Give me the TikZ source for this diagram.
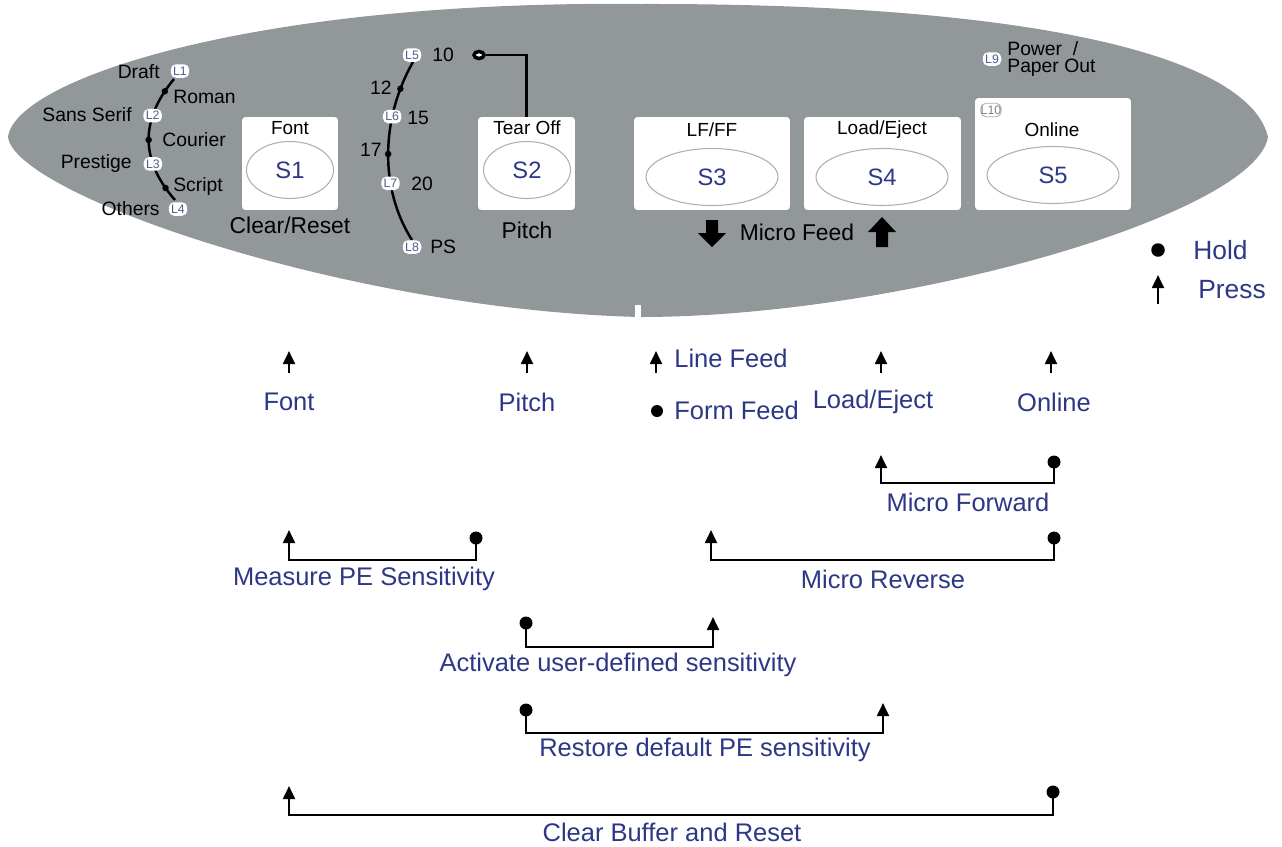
\documentclass[tikz,border=0pt]{standalone}
\usepackage{fontspec}
\setmainfont{Liberation Sans}
\usepackage{tikz}
\usetikzlibrary{arrows.meta, positioning, shapes.geometric}
\definecolor{panelgrey}{RGB}{146,151,154}
\definecolor{keyblue}{RGB}{44,56,134}
\definecolor{ledblue}{RGB}{80,92,150}
\definecolor{ovalgrey}{RGB}{175,175,175}

\begin{document}
\begin{tikzpicture}[
    x=0.02cm, y=-0.02cm,
    keybox/.style={fill=white, rounded corners=2pt, inner sep=0pt},
    keyoval/.style={ellipse, draw=ovalgrey, line width=0.6pt, inner sep=0pt, text=keyblue, font=\fontsize{13.5}{14}\selectfont},
    keyname/.style={inner sep=0pt, font=\fontsize{10.8}{12}\selectfont},
    panellabel/.style={inner sep=0pt, font=\fontsize{11}{12}\selectfont},
    biglabel/.style={inner sep=0pt, font=\fontsize{13}{14}\selectfont},
    led/.style={fill=white, rounded corners=3pt, inner sep=0pt, minimum width=0.37cm, minimum height=0.27cm, text=ledblue, font=\fontsize{7}{7}\selectfont},
    seldot/.style={circle, fill=black, inner sep=0pt, minimum size=0.13cm},
    selline/.style={line width=1.4pt},
    keylabel/.style={inner sep=0pt, text=keyblue, font=\fontsize{14.5}{15}\selectfont},
    keyarrow/.style={line width=1.4pt, -{Triangle[width=6.8pt, length=7.5pt]}},
    holddot/.style={circle, fill=black, inner sep=0pt, minimum size=0.26cm}
]
    \useasboundingbox (0,0) rectangle (1282,846);

    % Panel
    \fill[panelgrey] (8,137) .. controls (15,80) and (250,0) .. (640,4)
        .. controls (1050,3) and (1250,60) .. (1268,137)
        .. controls (1255,215) and (900,317) .. (640,317)
        .. controls (350,310) and (15,195) .. (8,137) -- cycle;
    \fill[white] (635,305) rectangle (641,318);

    % Keys
    \node[keybox, minimum width=1.92cm, minimum height=1.86cm] (s1box) at (290,163.5) {};
    \node[keybox, minimum width=1.94cm, minimum height=1.86cm] (s2box) at (526.5,163.5) {};
    \node[keybox, minimum width=3.12cm, minimum height=1.86cm] (s3box) at (712,163.5) {};
    \node[keybox, minimum width=3.14cm, minimum height=1.86cm] (s4box) at (882.5,163.5) {};
    \node[keybox, minimum width=3.12cm, minimum height=2.24cm] (s5box) at (1053,154) {};

    \node[keyoval, minimum width=1.74cm, minimum height=1.14cm] (s1key) at (290,170) {S1};
    \node[keyoval, minimum width=1.74cm, minimum height=1.14cm] (s2key) at (527,170) {S2};
    \node[keyoval, minimum width=2.64cm, minimum height=1.14cm] (s3key) at (712,177) {S3};
    \node[keyoval, minimum width=2.64cm, minimum height=1.14cm] (s4key) at (882,177) {S4};
    \node[keyoval, minimum width=2.64cm, minimum height=1.14cm] (s5key) at (1053,175) {S5};

    \node[keyname] (fontname) at (290,128) {Font};
    \node[keyname] (tearname) at (527,128) {Tear Off};
    \node[keyname] (lfffname) at (712,130) {LF/FF};
    \node[keyname] (loadname) at (882,130) {Load/Eject};
    \node[keyname] (onlinename) at (1052,130) {Online};
    \node[led, draw=ovalgrey, line width=0.5pt, text=gray] (l10) at (991,110) {L10};

    \node[biglabel] (clearreset) at (290,225) {Clear/Reset};
    \node[biglabel] (pitchname) at (527,230) {Pitch};
    \node[biglabel] (microfeed) at (797,232) {Micro Feed};

    % Micro feed arrows
    \fill (706,220) -- (718,220) -- (718,233) -- (726,233) -- (712,247) -- (698,233) -- (706,233) -- cycle;
    \fill (876,247) -- (888,247) -- (888,232) -- (896,232) -- (882,217) -- (868,232) -- (876,232) -- cycle;

    % Font selection
    \draw[selline] (174,79) .. controls (140,120) and (140,160) .. (175,200)
        node[seldot, pos=0.1] (romandot) {}
        node[led, pos=0.3] (l2) {L2}
        node[seldot, pos=0.5] (courierdot) {}
        node[led, pos=0.7] (l3) {L3}
        node[seldot, pos=0.9] (scriptdot) {};
    \node[led] (l1) at (180,71) {L1};
    \node[led] (l4) at (178,209) {L4};

    \node[panellabel, anchor=east] (draft) at (160,72) {Draft};
    \node[panellabel, anchor=west] (roman) at (173,97) {Roman};
    \node[panellabel, anchor=east] (sansserif) at (132,115) {Sans Serif};
    \node[panellabel, anchor=west] (courier) at (162,140) {Courier};
    \node[panellabel, anchor=east] (prestige) at (132,163) {Prestige};
    \node[panellabel, anchor=west] (script) at (173,186) {Script};
    \node[panellabel, anchor=east] (others) at (160,209) {Others};

    % Pitch selection
    \draw[selline] (413,62) .. controls (380,120) and (380,190) .. (412,240)
        node[seldot, pos=0.15] (dot12) {}
        node[led, pos=0.3] (l6) {L6}
        node[seldot, pos=0.5] (dot17) {}
        node[led, pos=0.66] (l7) {L7};
    \node[led] (l5) at (412,55) {L5};
    \node[led] (l8) at (412,247) {L8};

    \node[panellabel, anchor=west] (p10) at (432,55) {10};
    \node[panellabel, anchor=east] (p12) at (392,88) {12};
    \node[panellabel, anchor=west] (p15) at (407,118) {15};
    \node[panellabel, anchor=east] (p17) at (382,150) {17};
    \node[panellabel, anchor=west] (p20) at (411,184) {20};
    \node[panellabel, anchor=west] (pps) at (430,247) {PS};

    \node[ellipse, draw, line width=2pt, fill=white, minimum width=0.2cm, minimum height=0.14cm, inner sep=0pt] (tearring) at (479,55) {};
    \draw[selline] (tearring) -| (s2box.north);

    % Power LED
    \node[led] (l9) at (992,59) {L9};
    \node[panellabel, anchor=west, align=left, font=\fontsize{11}{9.6}\selectfont] (powerlbl) at (1007,59) {Power~~/\\Paper Out};

    % Legend
    \node[holddot, minimum size=0.27cm] (holdkey) at (1158,250) {};
    \node[keylabel, anchor=west, font=\fontsize{15}{16}\selectfont] (holdtxt) at (1193,250) {Hold};
    \coordinate (presstip) at (1158,275);
    \draw[keyarrow] (presstip) ++(0,29) -- (presstip);
    \node[keylabel, anchor=west, font=\fontsize{15}{16}\selectfont] (presstxt) at (1198,290) {Press};

    % Single keys
    \coordinate (fontpress) at (289,351);
    \draw[keyarrow] (fontpress) ++(0,22) -- (fontpress);
    \node[keylabel] (fontlbl) at (289,402) {Font};

    \coordinate (pitchpress) at (527,351);
    \draw[keyarrow] (pitchpress) ++(0,22) -- (pitchpress);
    \node[keylabel] (pitchlbl) at (527,402) {Pitch};

    \coordinate (lfpress) at (656,351);
    \draw[keyarrow] (lfpress) ++(0,22) -- (lfpress);
    \node[keylabel, anchor=west] (lftxt) at (674,358) {Line Feed};
    \node[holddot, minimum size=0.24cm] (ffhold) at (657,411) {};
    \node[keylabel, anchor=west] (fftxt) at (674,410) {Form Feed};

    \coordinate (loadpress) at (881,351);
    \draw[keyarrow] (loadpress) ++(0,22) -- (loadpress);
    \node[keylabel] (loadlbl) at (873,402) {Load/Eject};

    \coordinate (onlinepress) at (1051,351);
    \draw[keyarrow] (onlinepress) ++(0,22) -- (onlinepress);
    \node[keylabel] (onlinelbl) at (1054,402) {Online};

    % Key combinations
    \node[holddot] (fwdhold) at (1054,462) {};
    \coordinate (fwdpress) at (881,455);
    \draw[keyarrow] (fwdhold.center) -- ++(0,21) -| (fwdpress);
    \node[keylabel] (fwdlbl) at (968,502) {Micro Forward};

    \node[holddot] (meashold) at (476,538) {};
    \coordinate (measpress) at (289,530);
    \draw[keyarrow] (meashold.center) -- ++(0,22) -| (measpress);
    \node[keylabel] (measlbl) at (364,579) {Measure PE Sensitivity};

    \node[holddot] (revhold) at (1054,538) {};
    \coordinate (revpress) at (711,530);
    \draw[keyarrow] (revhold.center) -- ++(0,22) -| (revpress);
    \node[keylabel] (revlbl) at (883,579) {Micro Reverse};

    \node[holddot] (acthold) at (526,623) {};
    \coordinate (actpress) at (713,617);
    \draw[keyarrow] (acthold.center) -- ++(0,24) -| (actpress);
    \node[keylabel] (actlbl) at (618,665) {Activate user-defined sensitivity};

    \node[holddot] (resthold) at (526,710) {};
    \coordinate (restpress) at (883,703);
    \draw[keyarrow] (resthold.center) -- ++(0,23) -| (restpress);
    \node[keylabel] (restlbl) at (705,750) {Restore default PE sensitivity};

    \node[holddot] (clrhold) at (1053,792) {};
    \coordinate (clrpress) at (289,786);
    \draw[keyarrow] (clrhold.center) -- ++(0,23) -| (clrpress);
    \node[keylabel] (clrlbl) at (672,832) {Clear Buffer and Reset};

\end{tikzpicture}
\end{document}
